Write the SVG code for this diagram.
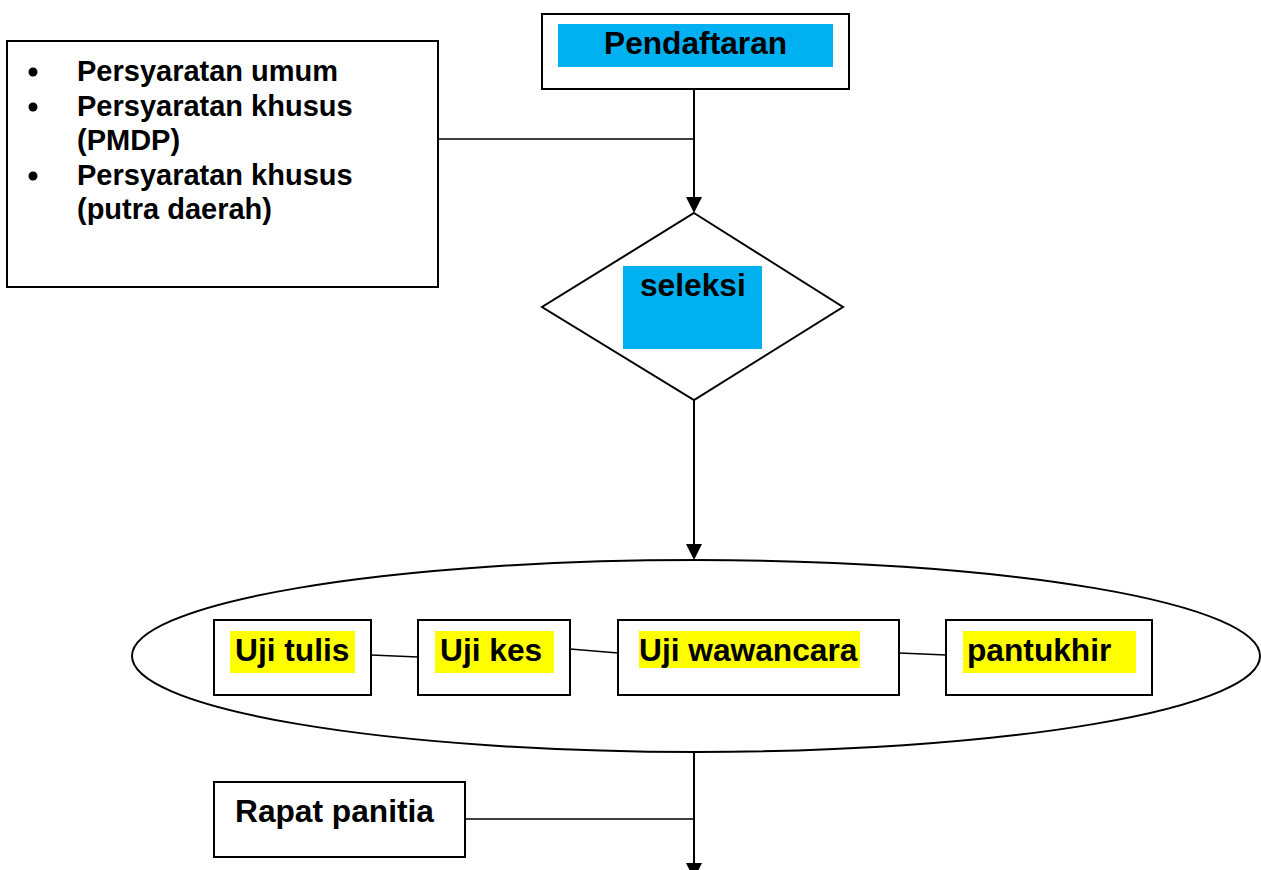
<svg xmlns="http://www.w3.org/2000/svg" width="1261" height="870" viewBox="0 0 1261 870">
<style>
.box{fill:#fff;stroke:#000;stroke-width:2}
.ln{fill:none;stroke:#000;stroke-width:1.5}
.ln2{fill:none;stroke:#000;stroke-width:2}
.t{font-family:"Liberation Sans",Arial,sans-serif;font-weight:bold;fill:#000;font-size:31.7px}
.blue{fill:#00b0f0}
.yel{fill:#ffff00}
</style>
<rect width="1261" height="870" fill="#fff"/>
<g id="connectors">
<line class="ln2" x1="694" y1="89" x2="694" y2="198"/>
<path d="M686,197 L702,197 L694,213 Z" fill="#000"/>
<line class="ln" x1="438" y1="139" x2="694" y2="139"/>
<line class="ln2" x1="694" y1="400" x2="694" y2="545"/>
<path d="M686,544 L702,544 L694,560 Z" fill="#000"/>
<line class="ln2" x1="694" y1="752" x2="694" y2="864"/>
<path d="M686,863 L702,863 L694,879 Z" fill="#000"/>
<line class="ln" x1="465" y1="819" x2="694" y2="819"/>
<line class="ln" x1="371" y1="655" x2="418" y2="657"/>
<line class="ln" x1="570" y1="649" x2="618" y2="653"/>
<line class="ln" x1="899" y1="653" x2="946" y2="655"/>
</g>
<g id="pendaftaran">
<rect class="box" x="542" y="14" width="307" height="75"/>
<rect class="blue" x="558" y="24" width="275" height="43"/>
<text class="t" x="604" y="54">Pendaftaran</text>
</g>
<g id="persyaratan">
<rect class="box" x="7" y="41" width="431" height="246"/>
<g class="t" style="font-size:29px">
<circle cx="33" cy="72" r="4.5" fill="#000"/>
<text x="77" y="81">Persyaratan umum</text>
<circle cx="33" cy="107" r="4.5" fill="#000"/>
<text x="77" y="116">Persyaratan khusus</text>
<text x="77" y="150">(PMDP)</text>
<circle cx="33" cy="176" r="4.5" fill="#000"/>
<text x="77" y="185">Persyaratan khusus</text>
<text x="77" y="219">(putra daerah)</text>
</g>
</g>
<g id="seleksi">
<polygon class="box" points="694,213 843,307 694,400 542,307"/>
<rect class="blue" x="623" y="266" width="139" height="83"/>
<text class="t" x="640" y="296">seleksi</text>
</g>
<g id="tahap">
<ellipse cx="696" cy="656" rx="564" ry="96" fill="none" stroke="#000" stroke-width="2"/>
</g>
<g id="uji-tulis">
<rect class="box" x="214" y="620" width="157" height="75"/>
<rect class="yel" x="230" y="631" width="125" height="42"/>
<text class="t" x="235" y="661">Uji tulis</text>
</g>
<g id="uji-kes">
<rect class="box" x="418" y="620" width="152" height="75"/>
<rect class="yel" x="435" y="631" width="119" height="42"/>
<text class="t" x="440" y="661">Uji kes</text>
</g>
<g id="uji-wawancara">
<rect class="box" x="618" y="620" width="281" height="75"/>
<rect class="yel" x="639" y="631" width="221" height="37"/>
<text class="t" x="639" y="661">Uji wawancara</text>
</g>
<g id="pantukhir">
<rect class="box" x="946" y="620" width="206" height="75"/>
<rect class="yel" x="963" y="631" width="173" height="42"/>
<text class="t" x="967" y="661">pantukhir</text>
</g>
<g id="rapat-panitia">
<rect class="box" x="214" y="782" width="251" height="75"/>
<text class="t" x="235" y="822">Rapat panitia</text>
</g>
</svg>
